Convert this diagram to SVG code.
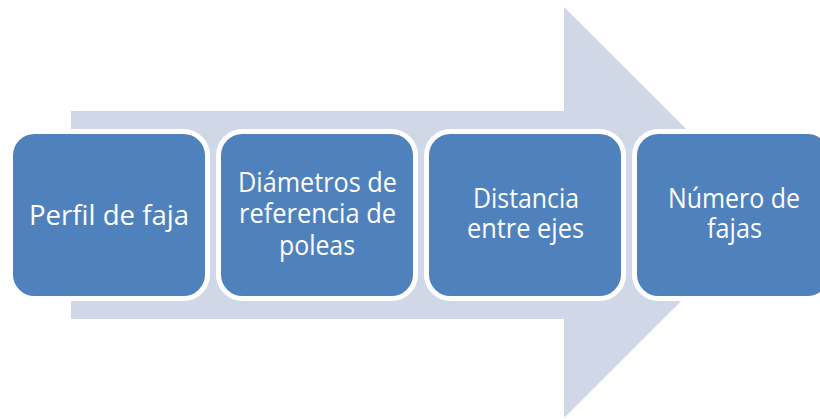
<svg xmlns="http://www.w3.org/2000/svg" width="820" height="419" viewBox="0 0 820 419">
<style>
.box{fill:#4f81bd;stroke:#ffffff;stroke-width:5}
.t{font-family:"Open Sans","Noto Sans",sans-serif;font-size:27px;fill:#ffffff;text-anchor:middle}
</style>
<rect width="820" height="419" fill="#ffffff"/>
<g id="arrow">
<polygon points="71,111 564,111 564,7 770,212.5 564,418 564,319 71,319" fill="#d0d8e8"/>
</g>
<g id="connectors"></g>
<g id="node1">
<rect class="box" x="10.5" y="131.5" width="197" height="167" rx="24"/>
<text class="t" x="109" y="225" textLength="160" lengthAdjust="spacingAndGlyphs">Perfil de faja</text>
</g>
<g id="node2">
<rect class="box" x="218.5" y="131.5" width="197" height="167" rx="24"/>
<text class="t" x="317.5" y="192" textLength="159" lengthAdjust="spacingAndGlyphs">Diámetros de</text>
<text class="t" x="317.5" y="223" textLength="157" lengthAdjust="spacingAndGlyphs">referencia de</text>
<text class="t" x="317" y="255" textLength="76" lengthAdjust="spacingAndGlyphs">poleas</text>
</g>
<g id="node3">
<rect class="box" x="426.5" y="131.5" width="197" height="167" rx="24"/>
<text class="t" x="526" y="208" textLength="106" lengthAdjust="spacingAndGlyphs">Distancia</text>
<text class="t" x="525.5" y="238" textLength="117" lengthAdjust="spacingAndGlyphs">entre ejes</text>
</g>
<g id="node4">
<rect class="box" x="634.5" y="131.5" width="197" height="167" rx="24"/>
<text class="t" x="734" y="208" textLength="132" lengthAdjust="spacingAndGlyphs">Número de</text>
<text class="t" x="734.5" y="238" textLength="55" lengthAdjust="spacingAndGlyphs">fajas</text>
</g>
</svg>
